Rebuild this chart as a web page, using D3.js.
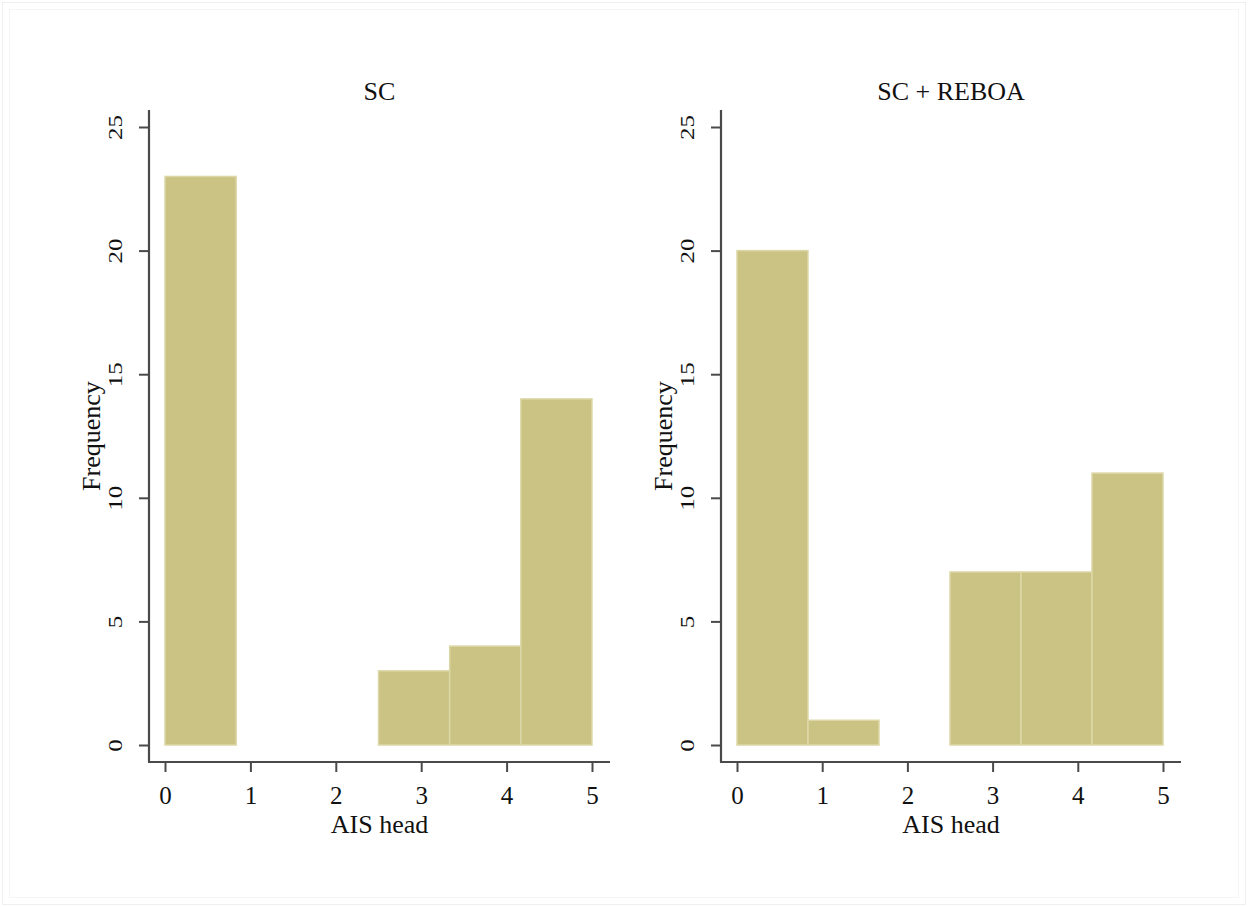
<!DOCTYPE html>
<html>
<head>
<meta charset="utf-8">
<script src="https://cdn.jsdelivr.net/npm/d3@7/dist/d3.min.js"></script>
<style>
  html, body { margin: 0; padding: 0; background: #fff; }
  svg { display: block; }
  text { font-family: "Liberation Serif", "Times New Roman", serif; fill: #111; }
</style>
</head>
<body>
<svg id="chart" width="1248" height="907"></svg>
<script>
// Histogram of AIS head scores, 6 bins of width 5/6 over [0, 5]
const binEdges = [0, 5/6, 10/6, 15/6, 20/6, 25/6, 30/6];
const panelTitles = ["SC", "SC + REBOA"];
const countsSC = [23, 0, 0, 3, 4, 14];
const countsREBOA = [20, 1, 0, 7, 7, 11];
const xTicks = [0, 1, 2, 3, 4, 5];
const yTicks = [0, 5, 10, 15, 20, 25];
const xLabel = "AIS head";
const yLabel = "Frequency";

const svg = d3.select("#chart");

// faint outer frame of the graph region
svg.append("rect").attr("x", 2.5).attr("y", 2.5).attr("width", 1243).attr("height", 902)
  .attr("fill", "none").attr("stroke", "#f0f0f0").attr("stroke-width", 1);
svg.append("rect").attr("x", 9.5).attr("y", 9.5).attr("width", 1229).attr("height", 888)
  .attr("fill", "none").attr("stroke", "#f6f6f6").attr("stroke-width", 1);

const panels = [
  { title: panelTitles[0], counts: countsSC, axisX: 149, x0: 165, x5: 592, axisEnd: 610 },
  { title: panelTitles[1], counts: countsREBOA, axisX: 721, x0: 737, x5: 1163, axisEnd: 1181 }
];

const yTop = 110, axisY = 762;
const y = d3.scaleLinear().domain([0, 25]).range([745, 127]);
const axisColor = "#4a4a4a";
const serif = "'Liberation Serif', 'Times New Roman', serif";

panels.forEach(p => {
  const x = d3.scaleLinear().domain([0, 5]).range([p.x0, p.x5]);
  const g = svg.append("g");

  // bars
  const bins = p.counts.map((c, i) => ({ x0: binEdges[i], x1: binEdges[i + 1], n: c }))
    .filter(d => d.n > 0);
  g.selectAll("rect.bar").data(bins).join("rect")
    .attr("class", "bar")
    .attr("x", d => x(d.x0))
    .attr("y", d => y(d.n))
    .attr("width", d => x(d.x1) - x(d.x0))
    .attr("height", d => y(0) - y(d.n))
    .attr("fill", "#cbc383")
    .attr("stroke", "#ddd7a8")
    .attr("stroke-width", 1.5);

  // y axis
  const yAxis = g.append("g").attr("transform", `translate(${p.axisX},0)`)
    .call(d3.axisLeft(y).tickValues(yTicks).tickSize(10));
  yAxis.select(".domain").remove();
  yAxis.append("line").attr("x1", 0).attr("x2", 0).attr("y1", yTop).attr("y2", axisY)
    .attr("stroke", axisColor).attr("stroke-width", 2.2);
  yAxis.selectAll(".tick line").attr("stroke", axisColor).attr("stroke-width", 2);
  yAxis.selectAll(".tick text")
    .attr("x", 0).attr("y", 0).attr("dy", "0.34em")
    .attr("transform", "translate(-33,0) rotate(-90) scale(1,0.72)")
    .attr("text-anchor", "middle")
    .style("font-family", serif)
    .style("font-size", "25px").attr("fill", "#111");

  // x axis
  const xAxis = g.append("g").attr("transform", `translate(0,${axisY})`)
    .call(d3.axisBottom(x).tickValues(xTicks).tickFormat(d3.format("d")).tickSize(10).tickPadding(14));
  xAxis.select(".domain").remove();
  xAxis.append("line").attr("x1", p.axisX - 1).attr("x2", p.axisEnd).attr("y1", 0).attr("y2", 0)
    .attr("stroke", axisColor).attr("stroke-width", 2.2);
  xAxis.selectAll(".tick line").attr("stroke", axisColor).attr("stroke-width", 2);
  xAxis.selectAll(".tick text")
    .style("font-family", serif)
    .style("font-size", "25px").attr("fill", "#111");

  // labels
  g.append("text").attr("x", (p.x0 + p.x5) / 2 + 1).attr("y", 833)
    .attr("text-anchor", "middle").style("font-size", "26px").text(xLabel);
  g.append("text")
    .attr("transform", `translate(${p.axisX - 49},${436}) rotate(-90)`)
    .attr("text-anchor", "middle").style("font-size", "26px").text(yLabel);
  g.append("text").attr("x", (p.x0 + p.x5) / 2 + 1).attr("y", 100)
    .attr("text-anchor", "middle").style("font-size", "26px").text(p.title);
});
</script>
</body>
</html>
